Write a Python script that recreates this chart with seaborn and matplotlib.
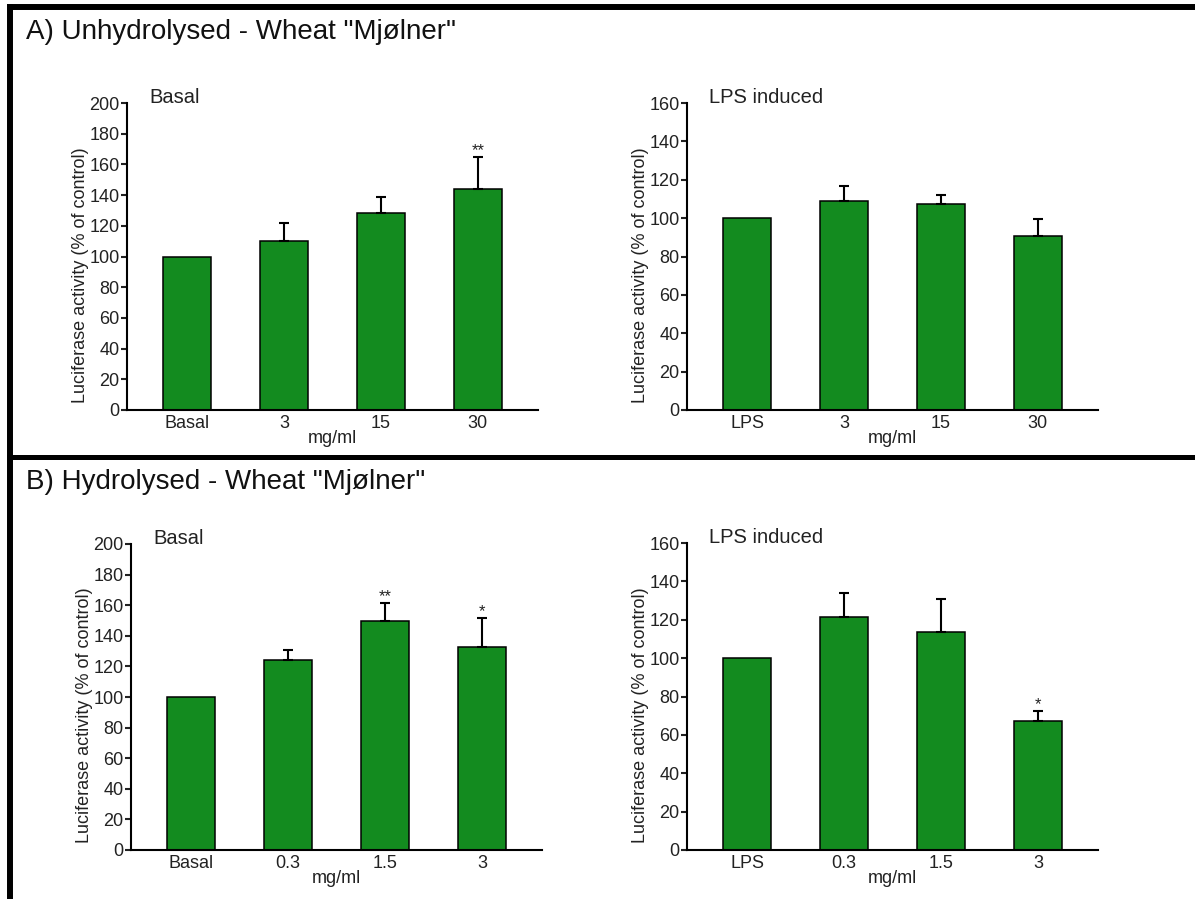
import matplotlib
matplotlib.use("Agg")
import matplotlib.pyplot as plt
import numpy as np
import seaborn as sns

# Données (% du contrôle)
a_basal_labels = ["Basal", "3", "15", "30"]
a_basal_vals = [100, 110, 128.5, 144]
a_basal_err = [0, 12, 10.5, 21]
a_basal_sig = ["", "", "", "**"]

a_lps_labels = ["LPS", "3", "15", "30"]
a_lps_vals = [100, 109, 107.5, 90.5]
a_lps_err = [0, 7.7, 4.3, 9]
a_lps_sig = ["", "", "", ""]

b_basal_labels = ["Basal", "0.3", "1.5", "3"]
b_basal_vals = [100, 124, 149.5, 132.5]
b_basal_err = [0, 6.5, 12, 19]
b_basal_sig = ["", "", "**", "*"]

b_lps_labels = ["LPS", "0.3", "1.5", "3"]
b_lps_vals = [100, 121.5, 113.5, 67]
b_lps_err = [0, 12.5, 17.5, 5.3]
b_lps_sig = ["", "", "", "*"]

GREEN = "#138B1F"
W, H = 1195, 899

sns.set_style("ticks")
plt.rcParams["font.family"] = ["Liberation Sans", "DejaVu Sans"]

fig = plt.figure(figsize=(W / 100, H / 100), dpi=100)


def px_axes(x0, y0, x1, y1):
    # rectangle en pixels (origine en haut à gauche) -> coordonnées figure
    return fig.add_axes([x0 / W, 1 - y1 / H, (x1 - x0) / W, (y1 - y0) / H])


def panel(ax, labels, vals, err, sig, ymax, title):
    sns.barplot(x=labels, y=vals, order=labels, ax=ax, color=GREEN,
                saturation=1, edgecolor="black", linewidth=1.1,
                width=0.5, errorbar=None)
    idx = [i for i, e in enumerate(err) if e > 0]
    ax.errorbar(idx, [vals[i] for i in idx],
                yerr=[[0] * len(idx), [err[i] for i in idx]],
                fmt="none", ecolor="black", elinewidth=1.5,
                capsize=3.6, capthick=1.5, zorder=5)
    for i, s in enumerate(sig):
        if s:
            ax.annotate(s, (i, vals[i] + err[i]), xytext=(0, 1.5),
                        textcoords="offset points", ha="center",
                        va="baseline", fontsize=12, color="#222222")
    ax.set_xlim(-0.62, 3.62)
    ax.set_ylim(0, ymax)
    ax.set_yticks(np.arange(0, ymax + 1, 20))
    sns.despine(ax=ax)
    for sp in ["left", "bottom"]:
        ax.spines[sp].set_linewidth(1.5)
        ax.spines[sp].set_color("black")
    ax.tick_params(axis="y", length=4.3, width=1.5, pad=1,
                   labelsize=13, colors="#222222")
    ax.tick_params(axis="x", length=0, pad=3.3, labelsize=13,
                   colors="#222222")
    ax.set_ylabel("Luciferase activity (% of control)", fontsize=13,
                  color="#222222")
    ax.yaxis.set_label_coords(-0.092, 0.44)
    ax.set_xlabel("mg/ml", fontsize=13, color="#222222", va="top")
    ax.xaxis.set_label_coords(0.5, -0.064)
    ax.text(0.054, 1.0, title, transform=ax.transAxes, fontsize=14.5,
            va="baseline", ha="left", color="#222222")


ax1 = px_axes(127, 103, 538, 410)
panel(ax1, a_basal_labels, a_basal_vals, a_basal_err, a_basal_sig, 200, "Basal")
ax2 = px_axes(687, 103, 1098, 410)
panel(ax2, a_lps_labels, a_lps_vals, a_lps_err, a_lps_sig, 160, "LPS induced")
ax3 = px_axes(131, 544, 542, 850)
panel(ax3, b_basal_labels, b_basal_vals, b_basal_err, b_basal_sig, 200, "Basal")
ax4 = px_axes(687, 543, 1098, 850)
panel(ax4, b_lps_labels, b_lps_vals, b_lps_err, b_lps_sig, 160, "LPS induced")

# titres des deux parties
fig.text(26 / W, 1 - 32 / H, 'A) Unhydrolysed - Wheat "Mjølner"',
         fontsize=20, va="center", ha="left", color="#111111")
fig.text(26 / W, 1 - 482 / H, 'B) Hydrolysed - Wheat "Mjølner"',
         fontsize=20, va="center", ha="left", color="#111111")

# cadre noir
def frame_line(xs, ys, lw):
    fig.add_artist(plt.Line2D([x / W for x in xs], [1 - y / H for y in ys],
                              transform=fig.transFigure, color="black",
                              lw=lw, solid_capstyle="butt"))


frame_line([7, W], [7, 7], 4.3)
frame_line([10, 10], [4, H], 4.3)
frame_line([7, W], [457, 457], 3.6)

fig.savefig("out.png", dpi=100)
